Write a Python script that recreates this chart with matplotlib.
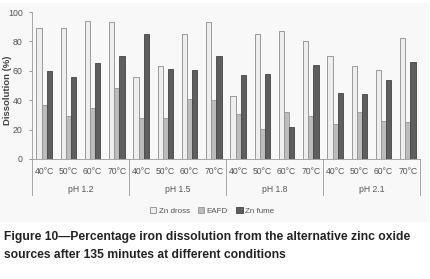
import numpy as np
import matplotlib
matplotlib.use("Agg")
from matplotlib import pyplot as plt
from matplotlib.patches import Rectangle

plt.rcParams["font.family"] = ["Liberation Sans", "DejaVu Sans"]

temps = ["40°C", "50°C", "60°C", "70°C"]
groups = ["pH 1.2", "pH 1.5", "pH 1.8", "pH 2.1"]

# values per (group, temp), in order pH 1.2 .. pH 2.1
zn_dross = [89, 89, 94, 93.5, 55.5, 63.5, 85, 93, 43, 85, 87, 80, 70, 63.3, 60.3, 82.5]
eafd = [37, 29, 35, 48, 28, 28, 41, 40, 30.6, 20.4, 31.7, 29.5, 23.6, 32.2, 26, 25]
zn_fume = [60, 56, 65.5, 70, 85, 61, 60.5, 70, 57.3, 57.8, 21.5, 64, 44.9, 44.2, 53.5, 66]

W, H = 431, 279
fig = plt.figure(figsize=(W / 100, H / 100), dpi=100)
fig.patch.set_facecolor("white")

# light grey chart area box
fig.patches.append(Rectangle((0, 1 - 222 / H), 429 / W, 219 / H,
                             transform=fig.transFigure, facecolor="#f8f8f8",
                             edgecolor="none", zorder=-10))

ax = fig.add_axes([32 / W, 1 - 159 / H, 388 / W, 147 / H])
ax.patch.set_visible(False)

x = np.arange(len(zn_dross))
bw = 0.21
ax.bar(x - bw, zn_dross, bw, color="#eeeeee", edgecolor="#8c8c8c", linewidth=0.6, label="Zn dross")
ax.bar(x, eafd, bw, color="#bcbcbc", edgecolor="#959595", linewidth=0.6, label="EAFD")
ax.bar(x + bw, zn_fume, bw, color="#5e5e5e", edgecolor="#444444", linewidth=0.6, label="Zn fume")

ax.set_xlim(-0.5, len(x) - 0.5)
ax.set_ylim(0, 100)
ax.set_yticks([0, 20, 40, 60, 80, 100])
ax.tick_params(axis="y", labelsize=6.3, labelcolor="#555555", color="#888888",
               length=2.2, width=0.6, pad=4.5)
ax.set_xticks([])
for s in ["top", "right"]:
    ax.spines[s].set_visible(False)
for s in ["left", "bottom"]:
    ax.spines[s].set_color("#999999")
    ax.spines[s].set_linewidth(0.6)

ax.set_ylabel("Dissolution (%)", fontsize=6.8, fontweight="bold", color="#444444")
ax.yaxis.set_label_coords(-20 / 388, 0.47)

# two-level category axis
trans = ax.get_xaxis_transform()
for i in range(len(x)):
    ax.text(x[i], -12 / 147, temps[i % 4], transform=trans, ha="center", va="center",
            fontsize=6.2, color="#555555")
for g in range(len(groups)):
    ax.text(g * 4 + 1.5, -31 / 147, groups[g], transform=trans, ha="center", va="center",
            fontsize=6.2, color="#555555")
for b in np.arange(-0.5, len(x), 4):
    ax.plot([b, b], [0, -36 / 147], transform=trans, color="#999999", lw=0.6, clip_on=False)

leg = fig.legend(loc="center", bbox_to_anchor=(212 / W, 1 - 211 / H), ncol=3, frameon=False,
                 fontsize=5.8, handlelength=0.8, handleheight=0.8, handletextpad=0.3,
                 columnspacing=1.0)
for t in leg.get_texts():
    t.set_color("#555555")

fig.text(4 / W, 1 - 237 / H, "Figure 10\u2014Percentage iron dissolution from the alternative zinc oxide",
         fontsize=8.7, fontweight="bold", va="center", ha="left", color="#222222")
fig.text(4 / W, 1 - 255 / H, "sources after 135 minutes at different conditions",
         fontsize=8.7, fontweight="bold", va="center", ha="left", color="#222222")

fig.savefig("out.png", dpi=100)
